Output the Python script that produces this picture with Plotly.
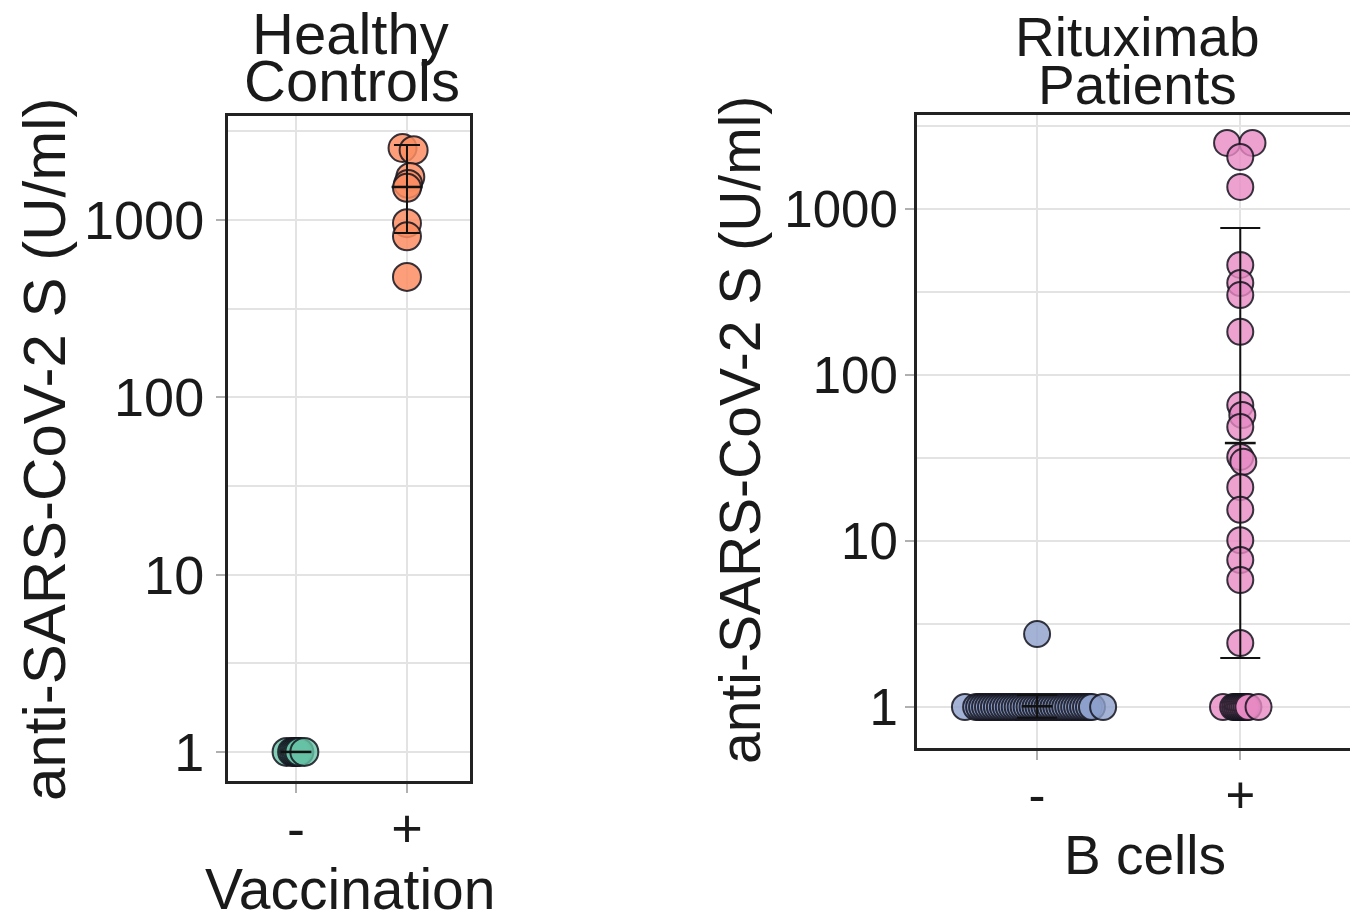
import plotly.graph_objects as go

# ---------------- data ----------------
# Healthy controls, vaccination "-" / "+"
hc_neg_vals = [1] * 7
hc_pos_vals = [2550, 2480, 1750, 1600, 1520, 960, 810, 478]
hc_summary_mean = [1.0, 1537]
hc_summary_low = [1.0, 846]
hc_summary_high = [1.0, 2653]

# Rituximab patients, B cells "-" / "+"
rtx_neg_vals = [1] * 42 + [2.75]
rtx_pos_vals = [2500, 2500, 2057, 1357, 460, 358, 303, 182,
                65.9, 57.4, 48.6, 32.1, 30.0, 21.1, 15.4, 10.1, 7.68, 5.82, 2.43] + [1] * 11
rtx_summary_mean = [1.01, 38.9]
rtx_summary_low = [0.86, 1.97]
rtx_summary_high = [1.18, 769]

x_tick_labels = ["-", "+"]
y_tick_vals = [1, 10, 100, 1000]
y_tick_text = ["1", "10", "100", "1000"]


# swarm offsets (horizontal positions of points within a category)
def spread(lo, hi, n):
    return [lo + (hi - lo) * i / (n - 1) for i in range(n)]


hc_neg_off = [-0.085] + spread(-0.035, 0.03, 5) + [0.075]
hc_pos_off = [-0.04, 0.06, 0.03, 0.01, 0.0, 0.0, 0.0, 0.0]
rtx_neg_off = [-0.355] + spread(-0.30, 0.27, 40) + [0.325] + [0.0]
rtx_pos_off = ([-0.065, 0.06, 0.0, 0.0, 0.0, 0.0, 0.0, 0.0,
                0.0, 0.01, 0.0, 0.0, 0.015, 0.0, 0.0, 0.0, 0.0, 0.0, 0.0]
               + [-0.085] + spread(-0.035, 0.04, 9) + [0.09])

GREEN = "rgba(102,194,165,0.8)"
ORANGE = "rgba(252,141,98,0.85)"
BLUE = "rgba(141,160,203,0.8)"
PINK = "rgba(231,138,195,0.8)"
EDGE = "rgba(20,20,30,0.85)"
FONT = "Liberation Sans, Arial, sans-serif"

fig = go.Figure()


def add_points(xpos, offs, vals, color, size, xa, ya):
    fig.add_trace(go.Scatter(
        x=[xpos + o for o in offs], y=vals, mode="markers",
        marker=dict(size=size, color=color, line=dict(color=EDGE, width=2)),
        xaxis=xa, yaxis=ya, showlegend=False, hoverinfo="y"))


def add_summary(means, lows, highs, capw, meanw, xa, ya):
    fig.add_trace(go.Scatter(
        x=[1, 2], y=means, mode="markers",
        marker=dict(symbol="line-ew", size=meanw, color="#111",
                    line=dict(color="#111", width=2.5)),
        error_y=dict(type="data", symmetric=False,
                     array=[h - m for h, m in zip(highs, means)],
                     arrayminus=[m - l for m, l in zip(means, lows)],
                     color="#111", thickness=2, width=capw),
        xaxis=xa, yaxis=ya, showlegend=False, hoverinfo="skip"))


add_points(1, hc_neg_off, hc_neg_vals, GREEN, 28, "x", "y")
add_points(2, hc_pos_off, hc_pos_vals, ORANGE, 28, "x", "y")
add_summary(hc_summary_mean, hc_summary_low, hc_summary_high, 13, 22, "x", "y")

add_points(1, rtx_neg_off, rtx_neg_vals, BLUE, 26, "x2", "y2")
add_points(2, rtx_pos_off, rtx_pos_vals, PINK, 26, "x2", "y2")
add_summary(rtx_summary_mean, rtx_summary_low, rtx_summary_high, 20, 22, "x2", "y2")

W, H = 1350, 923
GRID = "#e3e3e3"
LINE = "#222222"

common_x = dict(tickvals=[1, 2], ticktext=x_tick_labels, showgrid=True, gridcolor=GRID,
                gridwidth=2, zeroline=False, showline=True, mirror=True, linecolor=LINE,
                linewidth=3, ticks="outside", ticklen=9, tickcolor="#b0b0b0", tickwidth=2)
minor_vals = [10 ** (k + 0.5) for k in range(-1, 4)]
common_y = dict(type="log", tickvals=y_tick_vals, ticktext=y_tick_text, showgrid=True,
                gridcolor=GRID, gridwidth=2, zeroline=False, showline=True,
                linecolor=LINE, linewidth=3, ticks="outside", ticklen=9,
                tickcolor="#b0b0b0", tickwidth=2,
                minor=dict(tickvals=minor_vals, showgrid=True, gridcolor=GRID,
                           gridwidth=2, ticks=""))

fig.update_layout(
    width=W, height=H, margin=dict(l=0, r=0, t=0, b=0),
    paper_bgcolor="white", plot_bgcolor="white",
    font=dict(family=FONT, color="#1a1a1a"),
    xaxis=dict(domain=[228 / W, 470 / W], range=[0.387, 2.568], anchor="y",
               tickfont=dict(size=54), ticklabelstandoff=-11, **common_x),
    yaxis=dict(domain=[1 - 781 / H, 1 - 116 / H], range=[-0.164, 3.587], anchor="x",
               mirror=True, tickfont=dict(size=54), ticklabelstandoff=1, **common_y),
    xaxis2=dict(domain=[917 / W, 1.0], range=[0.409, 2.54], anchor="y2",
                tickfont=dict(size=51), ticklabelstandoff=-8, **common_x),
    yaxis2=dict(domain=[1 - 748 / H, 1 - 115 / H], range=[-0.247, 3.566], anchor="x2",
                mirror=False, tickfont=dict(size=51), ticklabelstandoff=-3, **common_y),
)


def txt(s, x, y, size, angle=0):
    fig.add_annotation(text=s, x=x / W, y=1 - y / H, xref="paper", yref="paper",
                       showarrow=False, xanchor="center", yanchor="middle",
                       textangle=angle, font=dict(size=size, family=FONT, color="#1a1a1a"))


txt("Healthy", 350, 33, 58)
txt("Controls", 352, 80, 58)
txt("Rituximab", 1137, 37, 55)
txt("Patients", 1137, 85, 55)
txt("Vaccination", 350, 889, 57)
txt("B cells", 1145, 855, 55)
txt("anti-SARS-CoV-2 S (U/ml)", 44, 450, 60, -90)
txt("anti-SARS-CoV-2 S (U/ml)", 740, 430, 57, -90)

fig.write_html("out.html", config={"displayModeBar": False},
               post_script="document.body.style.margin='0';document.body.style.overflow='hidden';")
